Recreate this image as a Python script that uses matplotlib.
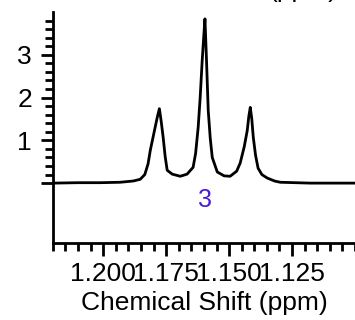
import matplotlib
matplotlib.use('Agg')
import matplotlib.pyplot as plt
from matplotlib.ticker import FixedLocator, NullFormatter

plt.rcParams['font.family'] = ['Liberation Sans', 'DejaVu Sans']

# spectrum points (ppm, intensity)
shift_ppm = [1.2198, 1.2100, 1.2012, 1.1933, 1.1880, 1.1853, 1.1835, 1.1822,
             1.1813, 1.1794, 1.1785, 1.1777, 1.1770, 1.1762, 1.1754, 1.1746,
             1.1726, 1.1694, 1.1667, 1.1643, 1.1633, 1.1623, 1.1615, 1.1607,
             1.1600, 1.1596, 1.1590, 1.1583, 1.1575, 1.1567, 1.1547, 1.1520,
             1.1496, 1.1470, 1.1456, 1.1440, 1.1428, 1.1422, 1.1416, 1.1410,
             1.1404, 1.1395, 1.1385, 1.1370, 1.1349, 1.1320, 1.1297, 1.1178,
             1.1000]
intensity = [0.00, 0.01, 0.01, 0.02, 0.05, 0.09, 0.20, 0.45,
             0.77, 1.30, 1.55, 1.74, 1.45, 1.07, 0.62, 0.30,
             0.21, 0.16, 0.21, 0.37, 0.70, 1.30, 2.00, 2.86,
             3.50, 3.84, 2.90, 1.70, 1.05, 0.60, 0.26, 0.17,
             0.16, 0.28, 0.47, 0.85, 1.23, 1.55, 1.77, 1.50,
             1.07, 0.65, 0.35, 0.20, 0.12, 0.05, 0.02, 0.00,
             0.00]

x_major = [1.200, 1.175, 1.150, 1.125]
x_labels = ['1.200', '1.175', '1.150', '1.125']
y_major = [0, 1, 2, 3]
y_labels = ['', '1', '2', '3']
multiplet_label = '3'
multiplet_ppm = 1.1596

fig = plt.figure(figsize=(3.55, 3.2), dpi=100)
ax = fig.add_axes([0.149, 0.2406, 0.851, 0.7219])

ax.plot(shift_ppm, intensity, color='black', linewidth=2)
ax.set_xlim(1.22, 1.10)
ax.set_ylim(-1.4, 4.0)

ax.spines['top'].set_visible(False)
ax.spines['right'].set_visible(False)
ax.spines['left'].set_linewidth(2)
ax.spines['bottom'].set_linewidth(2)

ax.xaxis.set_major_locator(FixedLocator(x_major))
ax.set_xticklabels(x_labels)
ax.xaxis.set_minor_locator(FixedLocator([1.220 - 0.005 * i for i in range(25)]))
ax.yaxis.set_major_locator(FixedLocator(y_major))
ax.set_yticklabels(y_labels)
ax.yaxis.set_minor_locator(FixedLocator([0.2 * i for i in range(1, 20) if i % 5]))
ax.xaxis.set_minor_formatter(NullFormatter())

ax.tick_params(which='major', length=9, width=2, labelsize=19, direction='out')
ax.tick_params(which='minor', length=6, width=2, direction='out')
ax.tick_params(axis='y', which='major', pad=6)
ax.tick_params(axis='x', which='major', pad=5)

ax.set_xlabel('Chemical Shift (ppm)', fontsize=19, labelpad=3)

ax.text(multiplet_ppm, -0.40, multiplet_label, color='#4a1bd6', fontsize=18,
        ha='center', va='center')

# top title, mostly cut off by the figure edge
fig.text(0.949, 1.008, '(ppm)', fontsize=19, ha='right', va='baseline')

fig.savefig('out.png', dpi=100)
